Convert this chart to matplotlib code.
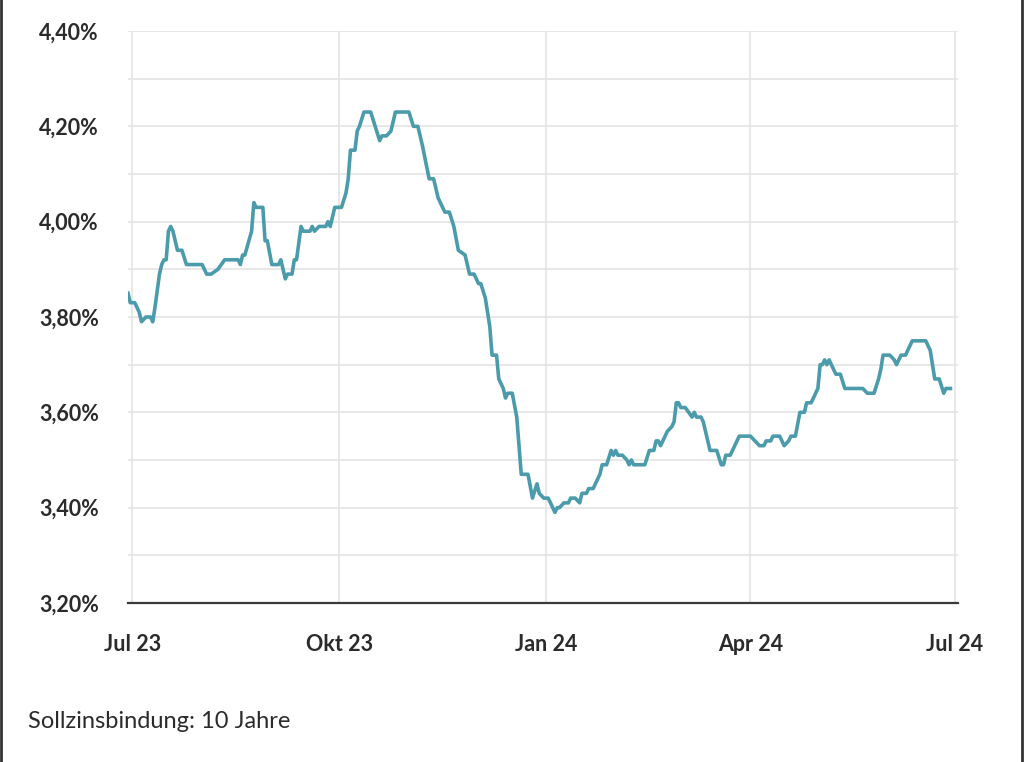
import pandas as pd
import numpy as np
import matplotlib
matplotlib.use("Agg")
import matplotlib.pyplot as plt
import matplotlib.dates as mdates
from matplotlib.ticker import FuncFormatter, MultipleLocator
from matplotlib.lines import Line2D

# Sollzins 10 Jahre (breakpoints of the curve)
dates = [
    "2023-06-29", "2023-06-30", "2023-07-02", "2023-07-03", "2023-07-04", "2023-07-05",
    "2023-07-07", "2023-07-09", "2023-07-10", "2023-07-11", "2023-07-13", "2023-07-14",
    "2023-07-15", "2023-07-16", "2023-07-17", "2023-07-18", "2023-07-19", "2023-07-21",
    "2023-07-23", "2023-07-25", "2023-08-01", "2023-08-03", "2023-08-05", "2023-08-08",
    "2023-08-11", "2023-08-17", "2023-08-18", "2023-08-19", "2023-08-20", "2023-08-23",
    "2023-08-24", "2023-08-25", "2023-08-28", "2023-08-29", "2023-08-30", "2023-09-01",
    "2023-09-04", "2023-09-05", "2023-09-07", "2023-09-08", "2023-09-10", "2023-09-11",
    "2023-09-12", "2023-09-14", "2023-09-15", "2023-09-18", "2023-09-19", "2023-09-20",
    "2023-09-22", "2023-09-25", "2023-09-26", "2023-09-27", "2023-09-29", "2023-10-02",
    "2023-10-04", "2023-10-05", "2023-10-06", "2023-10-08", "2023-10-09", "2023-10-10",
    "2023-10-12", "2023-10-15", "2023-10-17", "2023-10-19", "2023-10-20", "2023-10-22",
    "2023-10-24", "2023-10-26", "2023-11-01", "2023-11-03", "2023-11-05", "2023-11-07",
    "2023-11-10", "2023-11-12", "2023-11-14", "2023-11-15", "2023-11-17", "2023-11-19",
    "2023-11-21", "2023-11-23", "2023-11-26", "2023-11-28", "2023-11-30", "2023-12-02",
    "2023-12-03", "2023-12-05", "2023-12-07", "2023-12-08", "2023-12-10", "2023-12-11",
    "2023-12-13", "2023-12-14", "2023-12-15", "2023-12-17", "2023-12-19", "2023-12-21",
    "2023-12-24", "2023-12-26", "2023-12-28", "2023-12-29", "2023-12-31", "2024-01-02",
    "2024-01-04", "2024-01-05", "2024-01-06", "2024-01-07", "2024-01-09", "2024-01-11",
    "2024-01-12", "2024-01-14", "2024-01-16", "2024-01-17", "2024-01-19", "2024-01-20",
    "2024-01-22", "2024-01-25", "2024-01-26", "2024-01-28", "2024-01-30", "2024-01-31",
    "2024-02-01", "2024-02-02", "2024-02-04", "2024-02-06", "2024-02-07", "2024-02-08",
    "2024-02-09", "2024-02-14", "2024-02-16", "2024-02-18", "2024-02-19", "2024-02-20",
    "2024-02-21", "2024-02-23", "2024-02-24", "2024-02-26", "2024-02-27", "2024-02-28",
    "2024-02-29", "2024-03-01", "2024-03-03", "2024-03-06", "2024-03-07", "2024-03-08",
    "2024-03-10", "2024-03-11", "2024-03-13", "2024-03-14", "2024-03-17", "2024-03-19",
    "2024-03-20", "2024-03-21", "2024-03-23", "2024-03-25", "2024-03-27", "2024-04-01",
    "2024-04-03", "2024-04-05", "2024-04-07", "2024-04-08", "2024-04-10", "2024-04-11",
    "2024-04-14", "2024-04-16", "2024-04-18", "2024-04-19", "2024-04-21", "2024-04-23",
    "2024-04-25", "2024-04-26", "2024-04-28", "2024-05-01", "2024-05-02", "2024-05-03",
    "2024-05-04", "2024-05-05", "2024-05-06", "2024-05-07", "2024-05-09", "2024-05-11",
    "2024-05-13", "2024-05-21", "2024-05-23", "2024-05-26", "2024-05-28", "2024-05-29",
    "2024-05-30", "2024-06-02", "2024-06-04", "2024-06-05", "2024-06-07", "2024-06-09",
    "2024-06-12", "2024-06-18", "2024-06-20", "2024-06-22", "2024-06-24", "2024-06-26",
    "2024-06-27", "2024-06-29",
]
rates = [
    3.85, 3.83, 3.83, 3.82, 3.81, 3.79,
    3.80, 3.80, 3.79, 3.82, 3.89, 3.91,
    3.92, 3.92, 3.98, 3.99, 3.98, 3.94,
    3.94, 3.91, 3.91, 3.89, 3.89, 3.90,
    3.92, 3.92, 3.91, 3.93, 3.93, 3.98,
    4.04, 4.03, 4.03, 3.96, 3.96, 3.91,
    3.91, 3.92, 3.88, 3.89, 3.89, 3.92,
    3.92, 3.99, 3.98, 3.98, 3.99, 3.98,
    3.99, 3.99, 4.00, 3.99, 4.03, 4.03,
    4.06, 4.09, 4.15, 4.15, 4.19, 4.20,
    4.23, 4.23, 4.20, 4.17, 4.18, 4.18,
    4.19, 4.23, 4.23, 4.20, 4.20, 4.16,
    4.09, 4.09, 4.05, 4.04, 4.02, 4.02,
    3.99, 3.94, 3.93, 3.89, 3.89, 3.87,
    3.87, 3.84, 3.78, 3.72, 3.72, 3.67,
    3.65, 3.63, 3.64, 3.64, 3.59, 3.47,
    3.47, 3.42, 3.45, 3.43, 3.42, 3.42,
    3.40, 3.39, 3.40, 3.40, 3.41, 3.41,
    3.42, 3.42, 3.41, 3.43, 3.43, 3.44,
    3.44, 3.47, 3.49, 3.49, 3.52, 3.51,
    3.52, 3.51, 3.51, 3.50, 3.49, 3.50,
    3.49, 3.49, 3.52, 3.52, 3.54, 3.54,
    3.53, 3.55, 3.56, 3.57, 3.58, 3.62,
    3.62, 3.61, 3.61, 3.59, 3.60, 3.59,
    3.59, 3.58, 3.54, 3.52, 3.52, 3.49,
    3.49, 3.51, 3.51, 3.53, 3.55, 3.55,
    3.54, 3.53, 3.53, 3.54, 3.54, 3.55,
    3.55, 3.53, 3.54, 3.55, 3.55, 3.60,
    3.60, 3.62, 3.62, 3.65, 3.70, 3.70,
    3.71, 3.70, 3.71, 3.70, 3.68, 3.68,
    3.65, 3.65, 3.64, 3.64, 3.67, 3.69,
    3.72, 3.72, 3.71, 3.70, 3.72, 3.72,
    3.75, 3.75, 3.73, 3.67, 3.67, 3.64,
    3.65, 3.65,
]
month_ticks = ["2023-07-01", "2023-10-01", "2024-01-01", "2024-04-01", "2024-07-01"]
month_labels = ["Jul 23", "Okt 23", "Jan 24", "Apr 24", "Jul 24"]
footer = "Sollzinsbindung: 10 Jahre"

plt.rcParams["font.family"] = ["Lato", "DejaVu Sans"]

fig = plt.figure(figsize=(10.24, 7.62), dpi=100)
ax = fig.add_axes([0.125, 0.2087, 0.8105, 0.7506])

x = pd.to_datetime(dates)
ax.plot(x, rates, color="#4b9bab", lw=2.6, solid_joinstyle="round", zorder=3)

ax.set_ylim(3.2, 4.4)
ax.set_xlim(pd.Timestamp("2023-06-29"), pd.Timestamp("2024-07-02 08:00"))

ax.yaxis.set_major_locator(MultipleLocator(0.2))
ax.yaxis.set_minor_locator(MultipleLocator(0.1))
ax.yaxis.set_major_formatter(FuncFormatter(lambda v, p: f"{v:.2f}%".replace(".", ",")))
ax.set_xticks(pd.to_datetime(month_ticks))
ax.set_xticklabels(month_labels)

ax.grid(True, which="both", axis="y", color="#e4e4e4", lw=1.2, zorder=0)
ax.grid(True, which="major", axis="x", color="#e4e4e4", lw=1.2, zorder=0)
ax.tick_params(which="both", length=0)
ax.tick_params(axis="y", pad=21, labelsize=15.5, labelcolor="#2b2b2b")
ax.tick_params(axis="x", pad=22, labelsize=15.5, labelcolor="#2b2b2b")
for lab in ax.get_xticklabels() + ax.get_yticklabels():
    lab.set_fontweight("bold")

for s in ["left", "right", "top"]:
    ax.spines[s].set_visible(False)
ax.spines["bottom"].set_color("#3a3a3a")
ax.spines["bottom"].set_linewidth(1.6)
ax.spines["bottom"].set_zorder(4)

fig.text(28 / 1024, 1 - 722 / 762, footer, fontsize=17, color="#2b2b2b", va="center", ha="left")

# frame edges of the screenshot
fig.add_artist(Line2D([0.001, 0.001], [0, 1], color="#333333", lw=2, transform=fig.transFigure))
fig.add_artist(Line2D([0.9985, 0.9985], [0, 1], color="#333333", lw=2, transform=fig.transFigure))

fig.savefig("out.png", dpi=100, facecolor="white")
